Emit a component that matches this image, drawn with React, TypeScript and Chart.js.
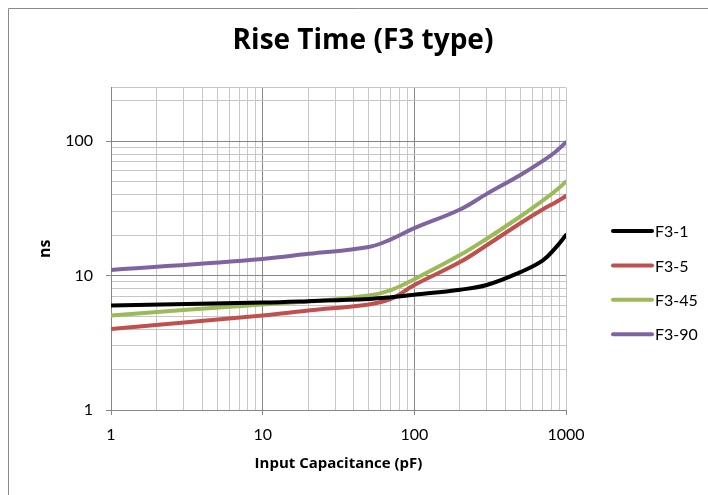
import React, { useEffect, useRef } from 'react';
import { Chart, registerables } from 'chart.js';

Chart.register(...registerables);

// ---- data ----
const capacitance = [1, 10, 20, 50, 70, 100, 200, 300, 500, 700, 850, 1000];
const f3_1 = [6.0, 6.3, 6.45, 6.7, 6.9, 7.2, 7.85, 8.5, 10.6, 12.9, 16.0, 20.0];
const f3_5 = [4.0, 5.05, 5.5, 6.1, 6.7, 8.5, 12.6, 16.8, 24.5, 31.0, 35.0, 39.0];
const f3_45 = [5.05, 6.1, 6.4, 7.1, 7.8, 9.4, 14.2, 18.8, 27.5, 36.0, 42.5, 50.0];
const f3_90 = [11.0, 13.3, 14.5, 16.3, 18.6, 22.5, 31.0, 40.5, 56.0, 71.0, 83.0, 98.0];

const seriesNames = ['F3-1', 'F3-5', 'F3-45', 'F3-90'];
const seriesColors = ['#000000', '#C0504D', '#9BBB59', '#8064A2'];
const seriesValues = [f3_1, f3_5, f3_45, f3_90];

const xLabelValues = [1, 10, 100, 1000];
const yLabelValues = [1, 10, 100];
const xMin = 1;
const xMax = 1000;
const yMin = 1;
const yMax = 250;

const chartTitle = 'Rise Time (F3 type)';
const xTitle = 'Input Capacitance (pF)';
const yTitle = 'ns';

const MAJOR = '#878787';
const MINOR = '#c6c6c6';
const FONT = 'Lato';
const TITLE_FONT = 'Open Sans';

function gridValues(min: number, max: number): number[] {
  const out: number[] = [];
  for (let p = 1; p <= max; p *= 10) {
    for (let m = 1; m <= 9; m++) {
      const v = m * p;
      if (v >= min && v <= max) out.push(v);
    }
  }
  if (out[out.length - 1] !== max) out.push(max);
  return out;
}

const isPow10 = (v: number) => Math.abs(Math.log10(v) - Math.round(Math.log10(v))) < 1e-9;

export default function App() {
  const ref = useRef<HTMLCanvasElement | null>(null);

  useEffect(() => {
    document.body.style.margin = '0';
    document.body.style.overflow = 'hidden';
    const canvas = ref.current;
    if (!canvas) return;

    const framePlugin = {
      id: 'frame',
      beforeDraw(chart: any) {
        const c = chart.ctx;
        c.save();
        c.fillStyle = '#ffffff';
        c.fillRect(0, 0, chart.width, chart.height);
        c.strokeStyle = '#8a8a8a';
        c.lineWidth = 1;
        c.beginPath();
        c.moveTo(8.5, chart.height);
        c.lineTo(8.5, 8.5);
        c.lineTo(chart.width, 8.5);
        c.stroke();
        c.restore();
      },
    };

    const legendPlugin = {
      id: 'customLegend',
      afterDraw(chart: any) {
        const c = chart.ctx;
        const area = chart.chartArea;
        const x0 = area.right + 47;
        const x1 = x0 + 39;
        const yStart = 231;
        const step = 34.4;
        c.save();
        c.font = `16px ${FONT}`;
        c.textBaseline = 'middle';
        c.textAlign = 'left';
        chart.data.datasets.forEach((ds: any, i: number) => {
          const y = yStart + i * step;
          c.strokeStyle = ds.borderColor;
          c.lineWidth = 4;
          c.lineCap = 'round';
          c.beginPath();
          c.moveTo(x0, y);
          c.lineTo(x1, y);
          c.stroke();
          c.fillStyle = '#000000';
          c.fillText(ds.label, x1 + 3, y + 1);
        });
        c.restore();
      },
    };

    const datasets = seriesNames.map((name, i) => ({
      label: name,
      data: capacitance.map((x, j) => ({ x, y: seriesValues[i][j] })),
      borderColor: seriesColors[i],
      backgroundColor: seriesColors[i],
      borderWidth: 4,
      pointRadius: 0,
      pointHoverRadius: 0,
      tension: 0.4,
      borderCapStyle: 'round' as const,
      borderJoinStyle: 'round' as const,
      fill: false,
      xAxisID: 'x',
      yAxisID: 'y',
    }));

    const xGrid = gridValues(xMin, xMax);
    const yGrid = gridValues(yMin, yMax);

    const chart = new Chart(canvas, {
      type: 'line',
      data: { datasets },
      plugins: [framePlugin, legendPlugin],
      options: {
        animation: false,
        responsive: false,
        devicePixelRatio: 1,
        events: [],
        layout: { padding: { left: 18, right: 0, top: 0, bottom: 0 } },
        plugins: {
          legend: { display: false },
          tooltip: { enabled: false },
          title: {
            display: true,
            text: chartTitle,
            color: '#000000',
            font: { family: TITLE_FONT, size: 28, weight: 'bold' },
            padding: { top: 24, bottom: 30 },
          },
        },
        scales: {
          x: {
            type: 'logarithmic',
            position: 'bottom',
            min: xMin,
            max: xMax,
            afterBuildTicks: (s: any) => {
              s.ticks = xGrid.map((v) => ({ value: v }));
            },
            afterFit: (s: any) => {
              s.height = 85;
            },
            ticks: {
              autoSkip: false,
              maxRotation: 0,
              padding: 10,
              color: '#000000',
              font: { family: FONT, size: 16 },
              callback: (v: any) => (xLabelValues.includes(Number(v)) ? String(v) : ''),
            },
            grid: {
              color: (ctx: any) => {
                const v = ctx.tick?.value;
                return v !== undefined && isPow10(v) && v !== xMax ? MAJOR : MINOR;
              },
              tickColor: (ctx: any) => {
                const v = ctx.tick?.value;
                return v !== undefined && isPow10(v) ? MAJOR : 'rgba(0,0,0,0)';
              },
              tickLength: 5,
              lineWidth: 1,
            },
            border: { color: MAJOR, width: 1 },
            title: {
              display: true,
              text: xTitle,
              color: '#000000',
              font: { family: TITLE_FONT, size: 15, weight: 'bold' },
              padding: { top: 0, bottom: 22 },
            },
          },
          y: {
            type: 'logarithmic',
            position: 'left',
            min: yMin,
            max: yMax,
            afterBuildTicks: (s: any) => {
              s.ticks = yGrid.map((v) => ({ value: v }));
            },
            afterFit: (s: any) => {
              s.width = 93;
            },
            ticks: {
              autoSkip: false,
              padding: 13,
              color: '#000000',
              font: { family: FONT, size: 16 },
              callback: (v: any) => (yLabelValues.includes(Number(v)) ? String(v) : ''),
            },
            grid: {
              color: (ctx: any) => {
                const v = ctx.tick?.value;
                return v !== undefined && isPow10(v) ? MAJOR : MINOR;
              },
              tickColor: (ctx: any) => {
                const v = ctx.tick?.value;
                return v !== undefined && isPow10(v) ? MAJOR : 'rgba(0,0,0,0)';
              },
              tickLength: 5,
              lineWidth: 1,
            },
            border: { color: MAJOR, width: 1 },
            title: {
              display: true,
              text: yTitle,
              color: '#000000',
              font: { family: TITLE_FONT, size: 16, weight: 'bold' },
              padding: { top: 18, bottom: 0 },
            },
          },
          yLegendSpace: {
            type: 'linear',
            position: 'right',
            display: true,
            afterFit: (s: any) => {
              s.width = 142;
            },
            ticks: { display: false },
            grid: { display: false, drawTicks: false },
            border: { display: false },
          },
        },
      } as any,
    });

    return () => {
      chart.destroy();
    };
  }, []);

  return (
    <div style={{ width: 708, height: 495, position: 'relative' }}>
      <canvas ref={ref} width={708} height={495} style={{ display: 'block' }} />
    </div>
  );
}
